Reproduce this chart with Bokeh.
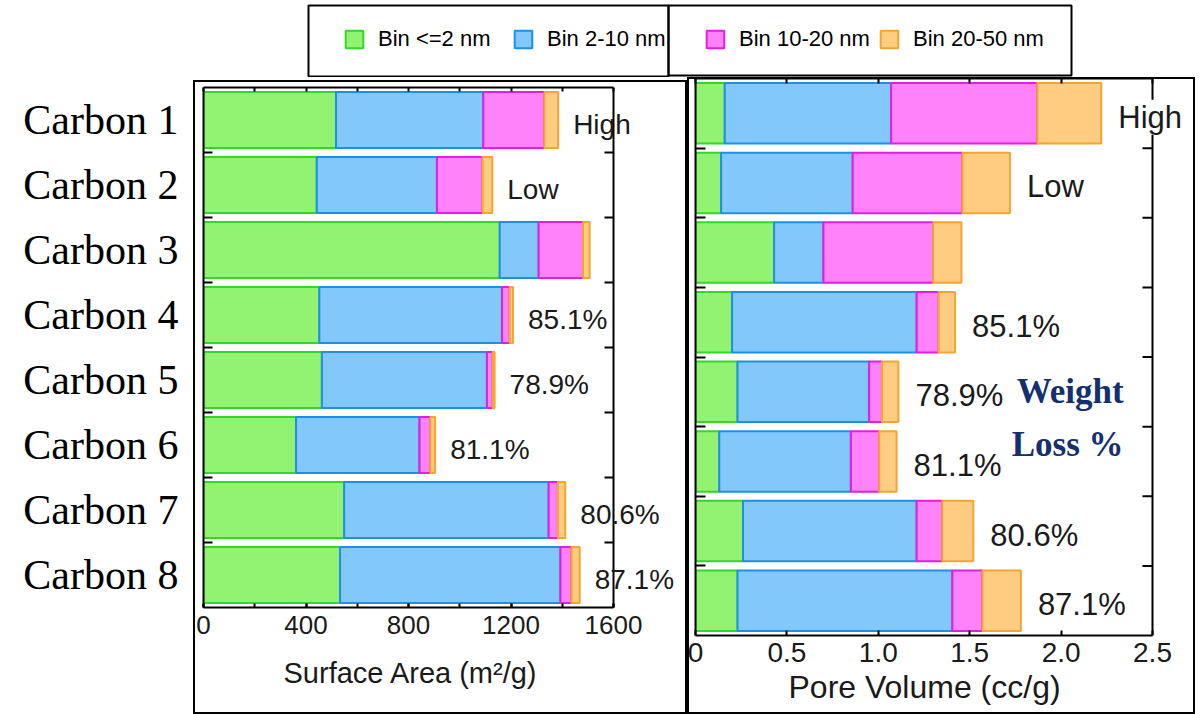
import numpy as np
from bokeh.plotting import figure
from bokeh.layouts import column, row
from bokeh.models import (ColumnDataSource, Range1d, FixedTicker, SingleIntervalTicker,
                          LinearAxis, Label, Legend, LegendItem, BoxAnnotation, Span,
                          PrintfTickFormatter, Title)
from bokeh.embed import file_html
from bokeh.resources import INLINE

# ---------------- data ----------------
carbons = ["Carbon 1", "Carbon 2", "Carbon 3", "Carbon 4",
           "Carbon 5", "Carbon 6", "Carbon 7", "Carbon 8"]
bins = ["Bin <=2 nm", "Bin 2-10 nm", "Bin 10-20 nm", "Bin 20-50 nm"]

# surface area (m2/g) per pore-size bin
sa_bin_le2 = [517, 442, 1156, 452, 462, 361, 549, 533]
sa_bin_2_10 = [575, 469, 152, 713, 644, 482, 798, 860]
sa_bin_10_20 = [238, 178, 173, 30, 22, 42, 36, 43]
sa_bin_20_50 = [54, 38, 26, 13, 8, 19, 29, 32]

# pore volume (cc/g) per pore-size bin
pv_bin_le2 = [0.16, 0.14, 0.43, 0.20, 0.23, 0.13, 0.26, 0.23]
pv_bin_2_10 = [0.91, 0.72, 0.27, 1.01, 0.72, 0.72, 0.95, 1.175]
pv_bin_10_20 = [0.80, 0.60, 0.60, 0.12, 0.07, 0.155, 0.14, 0.165]
pv_bin_20_50 = [0.35, 0.26, 0.155, 0.09, 0.09, 0.095, 0.17, 0.21]

weight_loss = ["High", "Low", "", "85.1%", "78.9%", "81.1%", "80.6%", "87.1%"]

sa_axis = (0, 1600)
pv_axis = (0, 2.5)
sa_ticks = [0, 400, 800, 1200, 1600]
sa_minor = [0, 200, 400, 600, 800, 1000, 1200, 1400, 1600]
pv_ticks = [0, 0.5, 1.0, 1.5, 2.0, 2.5]
sa_title = "Surface Area (m²/g)"
pv_title = "Pore Volume (cc/g)"

# ---------------- styles / geometry ----------------
FILLS = ["#92F271", "#82C8FA", "#FF82FB", "#FFCD82"]
LINES = ["#33D62A", "#1E8FE6", "#E21EE0", "#F2A531"]
SANS = "Liberation Sans"
SERIF = "Liberation Serif"
TXT = "#1a1a1a"
PANEL_CSS = {"box-shadow": "inset 0 0 0 2px black"}

L_W, L_ML, L_MR, L_AXIS_PX = 494, 10, 6, 410     # left panel: frame extends past axis box
R_W, R_ML, R_MR, R_AXIS_PX = 508, 8, 4, 457
L_END = sa_axis[1] * (L_W - L_ML - L_MR) / L_AXIS_PX
R_END = pv_axis[1] * (R_W - R_ML - R_MR) / R_AXIS_PX

pos = list(range(1, len(carbons) + 1))
bounds = [p + 0.5 for p in pos[:-1]]

sa_total = list(np.sum([sa_bin_le2, sa_bin_2_10, sa_bin_10_20, sa_bin_20_50], axis=0))
pv_total = list(np.sum([pv_bin_le2, pv_bin_2_10, pv_bin_10_20, pv_bin_20_50], axis=0))

src = ColumnDataSource(dict(
    y=pos,
    sa0=sa_bin_le2, sa1=sa_bin_2_10, sa2=sa_bin_10_20, sa3=sa_bin_20_50,
    pv0=pv_bin_le2, pv1=pv_bin_2_10, pv2=pv_bin_10_20, pv3=pv_bin_20_50,
))


def tick_only_axis(minor, tick_in, bnds):
    # only minor ticks -> no tick labels are produced at all
    return LinearAxis(ticker=FixedTicker(ticks=[], minor_ticks=minor), bounds=bnds,
                      major_label_text_font_size="0px", major_label_standoff=0,
                      major_tick_in=0, major_tick_out=0,
                      minor_tick_in=tick_in, minor_tick_out=0,
                      axis_line_width=2, axis_line_color="black",
                      minor_tick_line_width=2)


def style_panel(p):
    p.grid.visible = False
    p.outline_line_color = None
    p.background_fill_color = None
    p.border_fill_color = None


def style_row_axis(ax, tick_in):
    ax.ticker = FixedTicker(ticks=[], minor_ticks=bounds)
    ax.major_label_text_font_size = "0px"
    ax.major_label_standoff = 0
    ax.major_tick_in = 0
    ax.major_tick_out = 0
    ax.minor_tick_in = tick_in
    ax.minor_tick_out = 0
    ax.axis_line_width = 2
    ax.minor_tick_line_width = 2


def right_edge(p, xval, tick_len):
    p.add_layout(Span(location=xval, dimension="height", line_color="black", line_width=2))
    p.ray(x=[xval] * len(bounds), y=bounds, length=tick_len, length_units="screen",
          angle=np.pi, line_color="black", line_width=2)


def box(l, r, t, b):
    return BoxAnnotation(left=l, right=r, top=t, bottom=b,
                         left_units="screen", right_units="screen",
                         top_units="screen", bottom_units="screen",
                         fill_color=None, fill_alpha=0, line_color="black",
                         line_alpha=1, line_width=2)


def axis_title(text, size, offset, standoff):
    return Title(text=text, align="left", offset=offset, standoff=standoff,
                 vertical_align="bottom", text_font=SANS, text_font_size=size,
                 text_font_style="normal", text_color=TXT)


# ---------------- legend strip ----------------
leg = figure(width=1204, height=77, x_range=Range1d(0, 1), y_range=Range1d(0, 1),
             x_axis_location=None, y_axis_location=None, min_border=0, frame_align=False,
             toolbar_location=None, output_backend="svg")
leg.grid.visible = False
leg.outline_line_color = None
dummies = [leg.hbar(y=[float("nan")], right=[float("nan")], height=1,
                    fill_color=f, line_color=l, line_width=2)
           for f, l in zip(FILLS, LINES)]

for items, loc, lw, sp in [((0, 1), (343, 25), 113, 21), ((2, 3), (704, 25), 131, 8)]:
    lg = Legend(items=[LegendItem(label=bins[i], renderers=[dummies[i]]) for i in items],
                orientation="horizontal", location=loc, padding=0, margin=0,
                spacing=sp, label_standoff=13, glyph_width=22, glyph_height=22,
                label_width=lw, label_text_font=SANS, label_text_font_size="22px",
                label_text_color="black", border_line_color=None, background_fill_alpha=0)
    leg.add_layout(lg)

leg.add_layout(box(308, 668, 72, 1))
leg.add_layout(box(668, 1071, 72, 2))

# ---------------- carbon names ----------------
names = figure(width=193, height=637, x_range=Range1d(0, 1), y_range=Range1d(8.5, 0.5),
               x_axis_location=None, min_border_left=185, min_border_right=0,
               min_border_top=10, min_border_bottom=107, frame_align=False,
               toolbar_location=None, output_backend="svg")
names.grid.visible = False
names.outline_line_color = None
yn = names.yaxis[0]
yn.ticker = FixedTicker(ticks=pos)
yn.major_label_overrides = {p: c for p, c in zip(pos, carbons)}
yn.major_label_text_font = SERIF
yn.major_label_text_font_size = "42px"
yn.major_label_text_color = "black"
yn.major_label_standoff = 7
yn.major_tick_in = 0
yn.major_tick_out = 0
yn.major_tick_line_color = None
yn.axis_line_color = None

# ---------------- left panel: surface area ----------------
left = figure(width=L_W, height=634, x_range=Range1d(0, L_END), y_range=Range1d(8.5, 0.5),
              min_border_left=L_ML, min_border_right=L_MR, min_border_top=7,
              min_border_bottom=107, frame_align=False, margin=(3, 0, 0, 0),
              styles=PANEL_CSS, toolbar_location=None, output_backend="svg")
style_panel(left)
left.hbar_stack(["sa0", "sa1", "sa2", "sa3"], y="y", height=0.86, source=src,
                fill_color=FILLS, line_color=LINES, line_width=2)

xa = left.xaxis[0]
xa.bounds = sa_axis
xa.ticker = FixedTicker(ticks=sa_ticks, minor_ticks=sa_minor)
xa.major_label_text_font = SANS
xa.major_label_text_font_size = "26px"
xa.major_label_text_color = TXT
xa.major_label_standoff = 8
xa.major_tick_in = 4
xa.major_tick_out = 0
xa.minor_tick_in = 4
xa.minor_tick_out = 0
xa.axis_line_width = 2
xa.major_tick_line_width = 2
xa.minor_tick_line_width = 2
left.add_layout(axis_title(sa_title, "29px", 80, 37), "below")

style_row_axis(left.yaxis[0], 9)
left.add_layout(tick_only_axis(sa_minor, 4, sa_axis), "above")
right_edge(left, sa_axis[1], 9)

for xv, yv, t in zip(sa_total, pos, weight_loss):
    if t:
        left.add_layout(Label(x=xv, y=yv, text=t, x_offset=15, y_offset=-4,
                              text_font=SANS, text_font_size="28px", text_color=TXT,
                              text_align="left", text_baseline="middle"))

# ---------------- right panel: pore volume ----------------
right = figure(width=R_W, height=637, x_range=Range1d(0, R_END), y_range=Range1d(8.5, 0.5),
               min_border_left=R_ML, min_border_right=R_MR, min_border_top=1,
               min_border_bottom=79, frame_align=False, styles=PANEL_CSS,
               toolbar_location=None, output_backend="svg")
style_panel(right)
right.hbar_stack(["pv0", "pv1", "pv2", "pv3"], y="y", height=0.87, source=src,
                 fill_color=FILLS, line_color=LINES, line_width=2)

xb = right.xaxis[0]
xb.bounds = pv_axis
xb.ticker = FixedTicker(ticks=pv_ticks)
xb.formatter = PrintfTickFormatter(format="%.1f")
xb.major_label_overrides = {0: "0"}
xb.major_label_text_font = SANS
xb.major_label_text_font_size = "28px"
xb.major_label_text_color = TXT
xb.major_label_standoff = 7
xb.major_tick_in = 5
xb.major_tick_out = 0
xb.axis_line_width = 2
xb.major_tick_line_width = 2
right.add_layout(axis_title(pv_title, "32px", 93, 4), "below")

style_row_axis(right.yaxis[0], 10)
right.add_layout(tick_only_axis(pv_ticks, 5, pv_axis), "above")
right_edge(right, pv_axis[1], 10)

for xv, yv, t in zip(pv_total, pos, weight_loss):
    if t:
        right.add_layout(Label(x=xv, y=yv, text=t, x_offset=17, y_offset=-4,
                               text_font=SANS, text_font_size="31px", text_color=TXT,
                               text_align="left", text_baseline="middle",
                               background_fill_color="white"))

right.add_layout(Label(x=2.05, y=4.99, text="Weight", text_font=SERIF, text_font_style="bold",
                       text_font_size="35px", text_color="#14306E", text_align="center",
                       text_baseline="middle"))
right.add_layout(Label(x=2.06, y=5.76, text="Loss  %", text_font=SERIF, text_font_style="bold",
                       text_font_size="35px", text_color="#14306E", text_align="center",
                       text_baseline="middle"))

layout = column(leg, row(names, left, right, spacing=0), spacing=0)
open("out.html", "w").write(file_html(layout, INLINE))
